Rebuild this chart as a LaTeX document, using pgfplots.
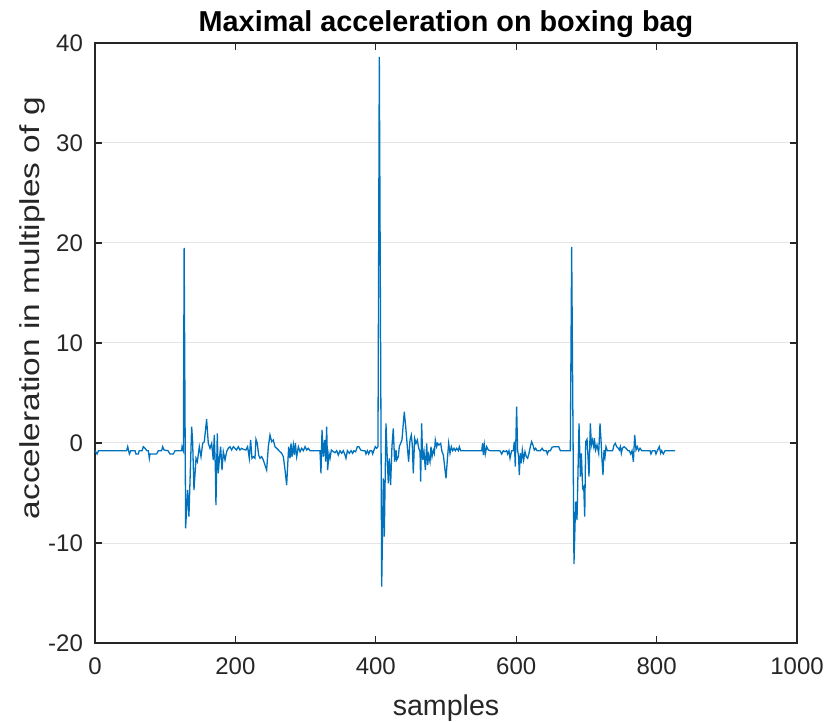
\documentclass[border=0pt]{standalone}
\usepackage{pgfplots}
\pgfplotsset{compat=1.18}
\usepackage{fontspec}
\setmainfont{Liberation Sans}

\definecolor{lineblue}{rgb}{0,0.447,0.741}
\definecolor{axisgray}{rgb}{0.15,0.15,0.15}
\definecolor{gridgray}{rgb}{0.9,0.9,0.9}

\begin{document}
\begin{tikzpicture}
\begin{axis}[
  name=main,
  scale only axis,
  width=351pt, height=300pt,
  xmin=0, xmax=1000, ymin=-20, ymax=40,
  xtick={0,200,...,1000},
  ytick={-20,-10,...,40},
  ymajorgrids,
  grid style={color=gridgray, line width=0.5pt},
  axis line style={color=axisgray, line width=0.6pt},
  major tick style={color=axisgray, line width=0.6pt},
  major tick length=3.5pt,
  tick align=inside,
  ticklabel style={font=\fontsize{12}{14}\selectfont, color=axisgray},
  xticklabel style={yshift=-4pt},
  yticklabel style={xshift=-2.5pt},
  /pgf/number format/assume math mode=true,
  /pgf/number format/1000 sep={},
  title={Maximal acceleration on boxing bag},
  title style={font=\bfseries\fontsize{14.4}{17}\selectfont, at={(axis description cs:0.5,1)}, anchor=base, yshift=-0.5pt},
  xlabel={samples},
  ylabel={\scalebox{1.22}[1]{acceleration in multiples of g}},
  xlabel style={font=\fontsize{14.3}{17}\selectfont, color=axisgray, at={(axis description cs:0.5,-0.121)}, anchor=base},
  ylabel style={font=\fontsize{13.7}{16}\selectfont, color=axisgray, at={(axis description cs:-0.0784,0.558)}, anchor=base},
]
\addplot[color=lineblue, line width=0.65pt, mark=none] coordinates {
(0,-0.77)(3,-1.1)(5,-0.77)(45,-0.77)(46.6,-0.37)(49,-1.1)(51,-0.77)(57,-0.77)
(58.4,-1.1)(61.7,-1.1)(63,-0.77)(67,-0.77)(68.8,-0.37)(71.2,-0.53)(74,-0.77)
(76,-0.77)(77.4,-1.53)(78.3,-1.1)(87.8,-1.1)(90.2,-0.77)(94.9,-0.77)(96.4,-0.37)
(98.3,-0.7)(104,-0.77)(106.8,-1.1)(111.6,-1.1)(114,-0.77)(123.5,-0.77)(124,-0.37)
(125.9,-0.77)(127,19.5)
(129.1,-8.53)(131.9,-4.7)(133.8,-7.37)(137.7,1.63)(139,0.3)(141,-4.7)(143.9,-1.53)
(145.8,-1.87)(148.6,-0.37)(151,-1.37)(153.4,-0.03)(155.7,0.13)(159,2.37)(161.4,-0.03)
(163.8,-0.53)(166.2,-0.03)(168.5,-1.7)(169.9,0.8)(171.4,-2.37)(172.3,-6.2)(174.2,0.97)
(175.6,-3.03)(177.1,-1.7)(179,-0.37)(180.9,-2.7)(182.8,-0.87)(185.2,-1.7)(187.5,-0.87)
(189.9,-0.53)(192.3,-0.37)(194.6,-0.7)(197,-0.37)(199.4,-0.53)(201.7,-0.7)(204.1,-0.37)
(206.5,-0.7)(208.9,-0.53)(211.2,-0.63)(215,-0.7)(217.4,-0.37)(219.8,-1.53)(221.7,0.3)
(223.6,-1.53)(225.5,-1.37)(227.9,-1.53)(229.3,0.37)(231.2,-0.03)(233.1,-1.2)(235,-1.53)
(237.4,-1.37)(239.7,-1.7)(242.1,-2.2)(244.5,-2.7)(246.9,-0.37)(249.3,0.8)(251.6,0.13)
(254,0.3)(256.4,-0.37)(258.8,-0.53)(261.2,-0.7)(263.5,-0.87)(265.9,-1.03)(268.3,-1.37)
(270.7,-2.7)(273,-4.2)(274.5,-2.2)(275.9,-0.37)(277.8,-1.53)(279.2,-0.03)(280.6,-1.37)
(282.5,-0.2)(284,-1.2)(285.4,-0.03)(287.3,-1.37)(289.7,-0.37)(292.1,-0.87)(294.4,-0.53)
(296.8,-0.77)(299.2,-0.37)(301.5,-0.7)(303.9,-0.53)
(306.3,-0.77)(320.5,-0.77)(321.9,-3.03)(323.4,1.3)(325.2,-1.37)(327.1,0.3)(328.6,-1.87)
(330,1.63)(331.4,-2.7)(333.3,-1.03)(334.8,-1.53)(336.7,-0.7)(339.5,-0.87)(341.9,-0.97)
(344.3,-0.77)(346.6,-1.2)(349,-0.77)(351.4,-1.03)(353.8,-0.77)(356.1,-1.2)(357.5,-1.53)
(359.5,-0.77)(362.3,-1.03)(364.7,-0.77)(367,-1.03)(368.9,-0.77)(371.3,-0.87)(373.7,-0.37)
(376,-0.37)(378.4,-0.7)(381.3,-0.77)(384.6,-0.77)(386,-1.1)(388,-0.77)(389.9,-1.1)
(391.7,-0.77)(394.1,-0.77)(395.6,-1.1)(397.4,-0.7)(399.3,-0.37)(401.2,-0.53)(403.1,-0.37)
(405,38.6)
(408.4,-14.37)(410.7,-3.53)(412.1,-9.37)(414.5,1.97)(416.4,-1.7)(417.8,-4.03)(419.2,-1.53)
(421.1,-4.2)(423,-0.37)(424.9,1.47)(426.8,-1.87)(428.8,-0.7)(429.7,-1.7)(432.1,-1.37)
(433.5,-0.37)(435.4,-0.03)(437.3,0.3)(439.2,1.97)(440.6,3.13)(443,1.3)(444.9,-0.37)
(446.8,-1.87)(448.7,0.3)(450.6,0.8)(452,-0.2)(453.4,-3.03)(455.3,0.47)(457.3,-0.03)
(459.2,0.3)(461.1,-0.53)(463,-0.87)(463.9,-3.87)(465.3,1.97)(466.8,-1.7)(468.7,-0.87)
(470.6,-2.7)(472.5,-0.03)(473.9,-2.2)(475.3,-1.2)(477.2,-1.87)(478.6,-0.37)(480.1,-1.37)
(482,-0.7)(483.4,-1.03)(484.8,0.3)(486.7,-0.37)(488.1,-0.03)(490,-0.2)(492.4,-0.03)
(494.3,-0.87)(496.2,-1.2)(498.1,-2.37)(500,-3.53)(501.9,-1.7)(503.8,-0.03)(505.7,-1.03)
(507.6,-0.37)(509.5,-0.77)(511.4,-0.53)(513.3,-0.77)(515.2,-0.53)(517.6,-0.77)(519,-0.37)
(520.9,-0.77)(550.8,-0.77)(552.2,-0.03)(553.2,-1.2)(554.6,-0.2)(556,-1.1)(557.9,-0.37)
(560.3,-0.7)(562.7,-0.77)
(576.9,-0.77)(579.3,-1.1)(581.7,-0.77)(584,-0.87)(586.4,-0.77)(587.8,-1.1)(589.7,-0.77)
(591.2,-1.53)(593.5,-0.77)(595.9,-0.77)(597.3,0.13)(598.7,-2.37)(600.6,3.63)(602,-0.7)
(603.4,-1.37)(604.4,-3.2)(605.8,-1.03)(607.2,-2.03)(608.7,-0.7)(610.6,-1.7)(612.5,-0.87)
(614.4,-1.37)(616.3,-1.53)(618.2,-1.03)(620.1,-0.37)(622,0.13)(623.9,-0.2)(625.8,-0.7)
(627.7,-0.53)(629.6,-0.77)(634.4,-0.77)(636.8,-0.53)(639.1,-0.77)(642.9,-0.77)(644.3,-1.1)
(646.2,-0.77)(648.6,-0.77)(651,-0.43)(653.4,-0.37)(660.5,-0.37)(662.9,-0.77)(677.1,-0.77)
(679,19.6)
(682.3,-12.1)(684.7,-5.87)(686.6,-7.7)(689.5,1.97)(691.4,-3.37)(692.8,-1.03)(694.7,-4.53)
(696.2,-4.37)(697.6,-7.37)(699,0.13)(700.9,0.37)(702.3,-1.37)(703.7,-3.37)(705.6,1.97)
(707.1,-0.2)(708.5,0.3)(710.4,-0.37)(711.3,0.47)(713.2,-0.7)(715.1,-0.2)(717.5,-1.03)
(719.4,1.97)(720.8,0.3)(722.2,-1.7)(723.6,-3.2)(725.1,-0.7)(726.5,-1.37)(727.9,-0.37)
(729.8,-0.77)(737.4,-0.77)(739.3,-0.2)(741.2,-0.03)(743.1,-0.37)(745.5,-0.53)(746.9,-0.7)
(748.3,-0.37)(749.8,-1.03)(751.2,-0.53)(753.6,-0.37)(756.4,-0.53)(759.3,-0.77)(761.2,-0.77)
(763.1,-1.1)(765,-0.77)(766.9,-1.87)(768.8,0.8)(770.7,-0.7)(772.6,-0.37)(774.5,-0.77)
(776.4,-0.53)(778.8,-0.77)(790.6,-0.77)(792,-1.1)(793.9,-0.77)(797.7,-0.77)(799.1,-1.1)
(801,-0.77)(803.9,-0.37)(805.8,-1.03)(807.2,-0.77)(809.6,-1.1)(812,-0.77)(826.2,-0.77)
};
\end{axis}
\pgfresetboundingbox
\path ([shift={(-47.5pt,-39.5pt)}]main.south west) rectangle ([shift={(16pt,21.5pt)}]main.north east);
\end{tikzpicture}
\end{document}
